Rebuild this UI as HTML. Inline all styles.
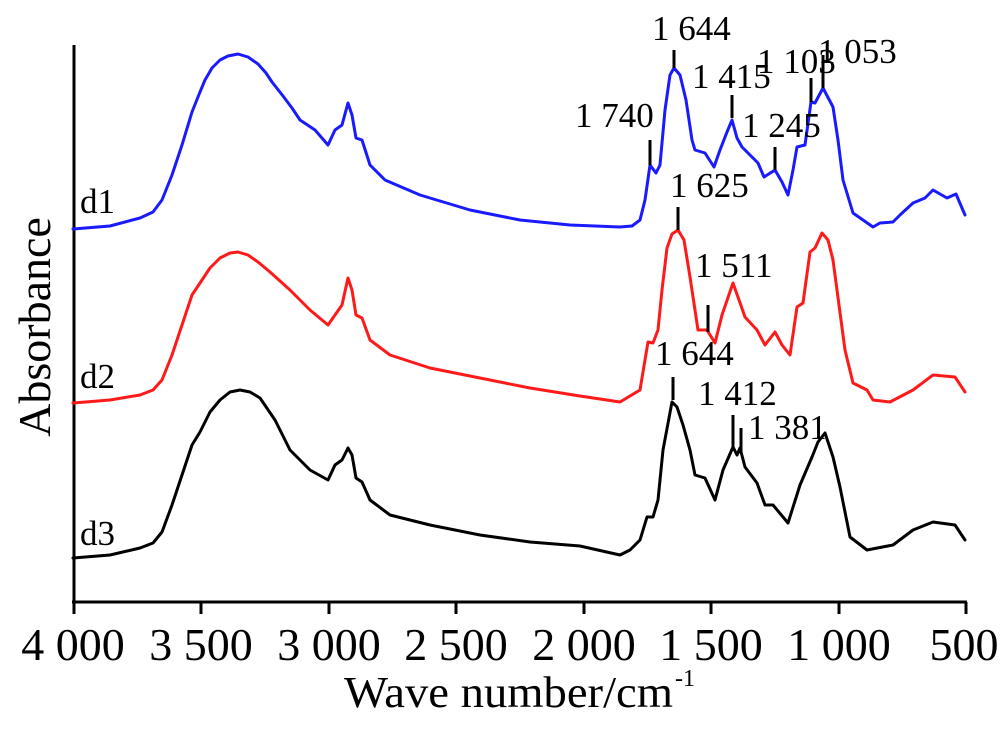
<!DOCTYPE html>
<html><head><meta charset="utf-8"><style>html,body{margin:0;padding:0;background:#fff}svg{display:block}</style></head>
<body>
<svg width="1000" height="735" viewBox="0 0 1000 735" xmlns="http://www.w3.org/2000/svg" font-family="Liberation Serif, serif">
<rect width="1000" height="735" fill="#fff"/>
<g stroke="#000" stroke-width="3" fill="none">
<line x1="74" y1="45" x2="74" y2="602"/>
<line x1="72" y1="602" x2="967" y2="602"/>
<line x1="74" y1="602" x2="74" y2="614"/><line x1="201" y1="602" x2="201" y2="614"/>
<line x1="329" y1="602" x2="329" y2="614"/><line x1="456" y1="602" x2="456" y2="614"/>
<line x1="584" y1="602" x2="584" y2="614"/><line x1="711" y1="602" x2="711" y2="614"/>
<line x1="839" y1="602" x2="839" y2="614"/><line x1="966" y1="602" x2="966" y2="614"/>
</g>
<g font-size="46" text-anchor="middle">
<text x="73" y="660">4 000</text>
<text x="201" y="660">3 500</text>
<text x="329" y="660">3 000</text>
<text x="456" y="660">2 500</text>
<text x="584" y="660">2 000</text>
<text x="711" y="660">1 500</text>
<text x="839" y="660">1 000</text>
<text x="964" y="660">500</text>
</g>
<text x="344" y="707" font-size="44" textLength="329" lengthAdjust="spacingAndGlyphs">Wave number/cm</text>
<text x="675" y="686" font-size="24">-1</text>
<text transform="translate(50,327) rotate(-90)" font-size="46" text-anchor="middle">Absorbance</text>
<g fill="none" stroke-width="3" stroke-linejoin="round" stroke-linecap="round">
<polyline stroke="#1a1aff" points="73,229 110,226 140,218 153,212 162,200 172,175 182,145 192,112 200,92 205,80 212,68 220,60 228,56 238,54 248,57 258,64 266,73 272,82 283,96 292,108 300,120 315,130 328,145 335,130 342,125 348,103 352,115 356,138 362,140 370,165 385,180 420,195 470,210 520,220 570,225 620,227 632,226 640,220 645,200 650,165 656,173 660,165 665,110 670,75 674,68 680,75 686,100 692,140 695,150 705,153 714,167 720,150 727,132 732,120 737,138 742,147 758,163 764,177 775,170 782,182 788,195 793,170 797,147 805,145 811,102 815,103 823,88 833,107 838,140 843,180 853,213 863,220 873,227 880,223 893,222 900,215 913,203 925,198 933,190 947,198 956,194 965,215"/>
<polyline stroke="#ff1a1a" points="73,403 110,400 140,395 153,390 162,380 172,355 182,325 192,295 200,283 210,268 220,258 230,253 238,252 248,255 258,262 270,272 290,290 310,310 328,325 335,315 342,305 348,278 352,290 356,315 362,318 370,340 390,355 430,368 480,378 530,388 580,396 620,402 640,390 648,342 653,343 658,330 662,290 667,248 672,234 678,230 684,240 690,277 698,330 707,330 715,343 722,315 733,283 745,317 757,330 765,345 775,332 782,345 790,355 797,307 803,303 810,252 815,248 822,233 828,240 833,260 845,350 853,383 867,390 873,400 890,402 913,390 933,375 955,377 965,392"/>
<polyline stroke="#000" points="73,558 110,555 140,548 153,543 162,532 172,505 182,475 192,445 200,432 210,412 220,400 230,392 240,390 250,392 260,398 275,420 290,450 310,470 328,480 335,465 342,460 348,448 352,455 356,478 362,482 370,500 390,515 430,525 480,535 530,542 580,546 620,555 630,550 640,540 647,517 653,517 658,500 663,450 672,402 677,407 683,425 690,450 695,475 705,478 715,500 723,470 733,447 737,455 740,448 745,467 757,483 765,505 773,505 788,523 800,485 812,457 818,442 825,433 833,457 840,487 850,537 867,550 893,545 913,530 933,522 955,525 965,540"/>
</g>
<g stroke="#000" stroke-width="3">
<line x1="674" y1="50" x2="674" y2="68"/>
<line x1="732" y1="95" x2="732" y2="118"/>
<line x1="650" y1="140" x2="650" y2="165"/>
<line x1="775" y1="147" x2="775" y2="170"/>
<line x1="811" y1="78" x2="811" y2="102"/>
<line x1="823" y1="55" x2="823" y2="88"/>
<line x1="678" y1="207" x2="678" y2="230"/>
<line x1="708" y1="305" x2="708" y2="332"/>
<line x1="673" y1="377" x2="673" y2="400"/>
<line x1="733" y1="415" x2="733" y2="450"/>
<line x1="741" y1="428" x2="741" y2="453"/>
</g>
<g font-size="35">
<text x="652" y="40">1 644</text>
<text x="692" y="88">1 415</text>
<text x="575" y="127">1 740</text>
<text x="742" y="137">1 245</text>
<text x="757" y="73">1 103</text>
<text x="818" y="63">1 053</text>
<text x="670" y="197">1 625</text>
<text x="695" y="277">1 511</text>
<text x="655" y="365">1 644</text>
<text x="698" y="405">1 412</text>
<text x="748" y="439">1 381</text>
<text x="80" y="213">d1</text>
<text x="80" y="388">d2</text>
<text x="80" y="545">d3</text>
</g>
</svg>
</body></html>
